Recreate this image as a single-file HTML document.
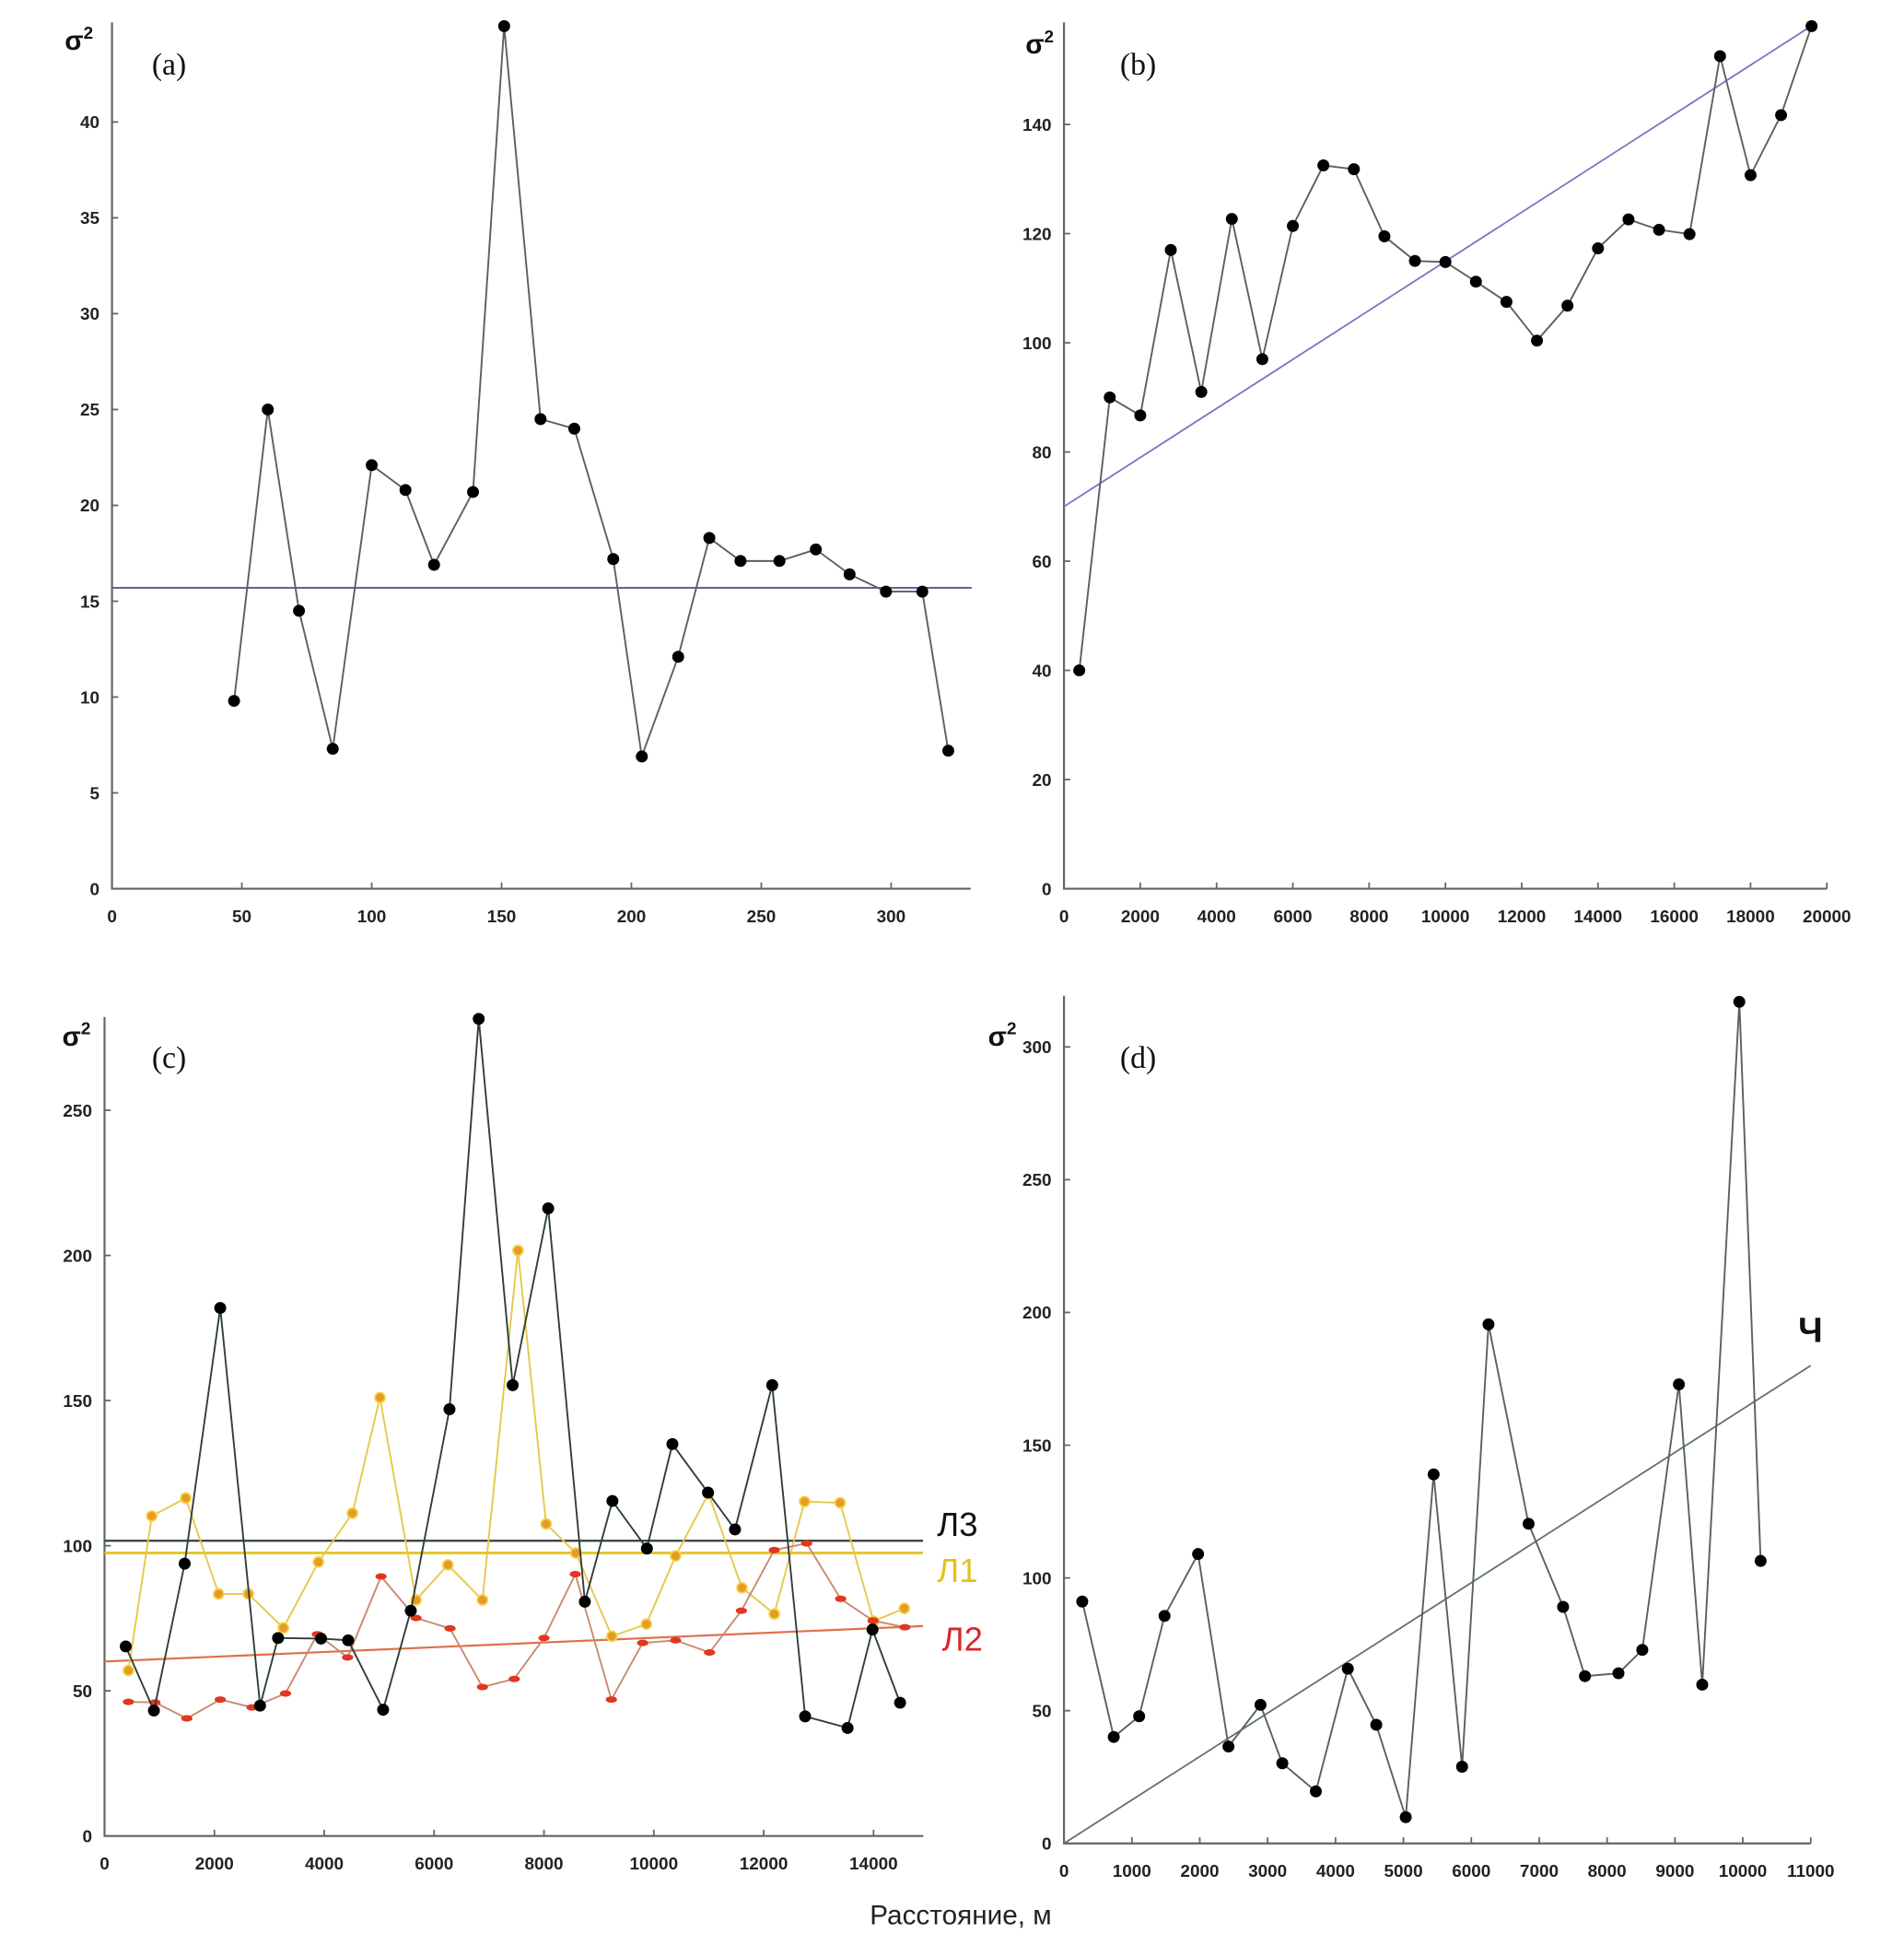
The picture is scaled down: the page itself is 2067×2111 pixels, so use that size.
<!DOCTYPE html>
<html><head><meta charset="utf-8"><style>
html,body{margin:0;padding:0;background:#fff;}
svg{display:block;}
text{font-family:"Liberation Sans",sans-serif;}
</style></head><body>
<svg id="fig" width="2067" height="2111" viewBox="0 0 1530 1562.6" preserveAspectRatio="none" xmlns="http://www.w3.org/2000/svg">
<rect width="1530" height="1563" fill="#fff"/>
</svg>
<script>
// Panel (a)
const aX=[47,60,72,85,100,113,124,139,151,165,178,193,204,218,230,242,257,271,284,298,312,322];
const aY=[9.8,25,14.5,7.3,22.1,20.8,16.9,20.7,45,24.5,24,17.2,6.9,12.1,18.3,17.1,17.1,17.7,16.4,15.5,15.5,7.2];
const aMean=[15.7];
const aXTicks=[0,50,100,150,200,250,300];
const aYTicks=[0,5,10,15,20,25,30,35,40];
// Panel (b)
const bX=[400,1200,2000,2800,3600,4400,5200,6000,6800,7600,8400,9200,10000,10800,11600,12400,13200,14000,14800,15600,16400,17200,18000,18800,19600];
const bY=[40,90,86.7,117,91,122.7,97,121.4,132.5,131.8,119.5,115,114.8,111.2,107.5,100.4,106.8,117.3,122.6,120.7,119.9,152.5,130.7,141.7,158];
const bTrend=[[0,70],[19700,158.5]];
const bXTicks=[0,2000,4000,6000,8000,10000,12000,14000,16000,18000,20000];
const bYTicks=[0,20,40,60,80,100,120,140];
// Panel (c)
const cBlackX=[386,899,1459,2106,2831,3159,3942,4435,5072,5575,6280,6812,7430,8077,8744,9246,9874,10338,10986,11478,12155,12754,13527,13981,14483];
const cBlackY=[65.3,43.2,93.8,181.9,44.9,68.2,68,67.4,43.5,77.6,147,281.5,155.3,216.2,80.7,115.4,99,135,118.3,105.6,155.3,41.2,37.2,71.1,45.9];
const cYelX=[435,860,1478,2077,2618,3256,3894,4512,5014,5671,6251,6880,7527,8039,8580,9237,9865,10396,10995,11604,12193,12744,13391,14000,14560];
const cYelY=[57,110.2,116.4,83.4,83.4,71.7,94.4,111.2,151,81.3,93.4,81.3,201.7,107.5,97.5,68.8,73,96.5,117.9,85.5,76.5,115.2,114.8,74,78.4];
const cRedX=[435,918,1498,2106,2686,3295,3874,4425,5034,5671,6290,6880,7459,8000,8570,9227,9797,10396,11014,11594,12193,12783,13401,13990,14570];
const cRedY=[46.2,46,40.5,47,44.3,49.1,69.5,61.5,89.4,75.1,71.5,51.3,54.1,68.2,90.2,47,66.5,67.4,63.2,77.6,98.5,100.8,81.7,74.2,71.9];
const cL3=[101.7], cL1=[97.5];
const cL2Trend=[[0,60.1],[14900,72.3]];
const cXTicks=[0,2000,4000,6000,8000,10000,12000,14000];
const cYTicks=[0,50,100,150,200,250];
// Panel (d)
const dX=[269,733,1107,1481,1975,2423,2894,3216,3710,4181,4600,5034,5445,5864,6253,6844,7352,7674,8168,8519,9058,9402,9948,10262];
const dY=[91.1,40.1,47.9,85.7,109,36.5,52.2,30.2,19.6,65.8,44.7,9.9,139,28.9,195.5,120.4,89.1,63,64.1,72.9,172.9,59.8,317,106.4];
const dTrend=[[0,0],[11000,180]];
const dXTicks=[0,1000,2000,3000,4000,5000,6000,7000,8000,9000,10000,11000];
const dYTicks=[0,50,100,150,200,250,300];

const NS='http://www.w3.org/2000/svg';
const svg=document.getElementById('fig');
function mk(tag,attrs,parent){const e=document.createElementNS(NS,tag);for(const k in attrs)e.setAttribute(k,attrs[k]);(parent||svg).appendChild(e);return e;}

function panel(id,cfg){
  const g=mk('g',{});
  
  
  const sx=v=>cfg.x0+v*cfg.xs, sy=v=>cfg.y0-v*cfg.ys;
  const ax=mk('path',{d:`M${cfg.x0},${cfg.top} L${cfg.x0},${cfg.y0} L${cfg.xEnd},${cfg.y0}`,fill:'none',stroke:'#5b6767','stroke-width':1.6},g);
  
  
  cfg.xticks.forEach(t=>{
    mk('line',{x1:sx(t),x2:sx(t),y1:cfg.y0,y2:cfg.y0-5,stroke:'#5b6767','stroke-width':1.3},g);
    const tx=mk('text',{x:sx(t),y:cfg.y0+27,'text-anchor':'middle','font-size':14,'font-weight':'bold',fill:'#222'},g);
    tx.textContent=t;
    
    
  });
  cfg.yticks.forEach(t=>{
    mk('line',{x1:cfg.x0,x2:cfg.x0+5,y1:sy(t),y2:sy(t),stroke:'#5b6767','stroke-width':1.3},g);
    const ty=mk('text',{x:cfg.x0-10,y:sy(t)+5,'text-anchor':'end','font-size':14,'font-weight':'bold',fill:'#222'},g);
    ty.textContent=t;
    
    
  });
  const s=mk('text',{x:cfg.sigX,y:cfg.sigY,'font-size':22,'font-weight':'bold',fill:'#111'},g);
  s.innerHTML='σ<tspan font-size="14" dy="-9">2</tspan>';
  
  
  const l=mk('text',{x:cfg.labX,y:cfg.labY,'font-size':25,fill:'#111',style:'font-family:"Liberation Serif",serif'},g);
  l.textContent=cfg.label;
  
  
  return {g,sx,sy};
}
function series(p,xs,ys,name,lineColor,marker){
  const pts=xs.map((x,i)=>p.sx(x).toFixed(1)+','+p.sy(ys[i]).toFixed(1)).join(' ');
  const pl=mk('polyline',{points:pts,fill:'none',stroke:lineColor,'stroke-width':1.4},p.g);
  
  
  xs.forEach((x,i)=>{
    let m;
    if(marker==='black') m=mk('circle',{cx:p.sx(x),cy:p.sy(ys[i]),r:4.8,fill:'#000'},p.g);
    else if(marker==='yellow') m=mk('circle',{cx:p.sx(x),cy:p.sy(ys[i]),r:4,fill:'#e79a2a',stroke:'#f3d23a','stroke-width':1.3},p.g);
    else m=mk('ellipse',{cx:p.sx(x),cy:p.sy(ys[i]),rx:4.5,ry:2.6,fill:'#e2361e'},p.g);
    
    
  });
}
function tline(p,a,b,color,name,w){
  const ln=mk('line',{x1:p.sx(a[0]),y1:p.sy(a[1]),x2:p.sx(b[0]),y2:p.sy(b[1]),stroke:color,'stroke-width':w||1.3},p.g);
  
  
}

// (a)
const pa=panel('panel-a',{x0:90,xEnd:780,xs:2.087,y0:714,ys:15.4,top:18,xticks:aXTicks,yticks:aYTicks,sigX:52,sigY:40,labX:122,labY:60,label:'(a)'});
tline(pa,[0,aMean[0]],[331,aMean[0]],'#4a4a96','mean-line-a');
series(pa,aX,aY,'series-a','#5a5f5f','black');
// (b)
const pb=panel('panel-b',{x0:855,xEnd:1468,xs:0.03065,y0:714,ys:4.386,top:18,xticks:bXTicks,yticks:bYTicks,sigX:824,sigY:43,labX:900,labY:60,label:'(b)'});
tline(pb,bTrend[0],bTrend[1],'#7570c0','trend-line-b');
series(pb,bX,bY,'series-b','#5a5f5f','black');
// (c)
const pc=panel('panel-c',{x0:84,xEnd:742,xs:0.04414,y0:1475,ys:2.332,top:817,xticks:cXTicks,yticks:cYTicks,sigX:50,sigY:840,labX:122,labY:858,label:'(c)'});
tline(pc,[0,cL3[0]],[14900,cL3[0]],'#2f3d3d','l3-mean-line',1.6);
tline(pc,[0,cL1[0]],[14900,cL1[0]],'#e3c21e','l1-mean-line',2);
tline(pc,cL2Trend[0],cL2Trend[1],'#e0704a','l2-trend-line',1.6);
series(pc,cYelX,cYelY,'series-l1','#e5c84a','yellow');
series(pc,cRedX,cRedY,'series-l2','#c98a70','red');
series(pc,cBlackX,cBlackY,'series-l3','#2f3d3d','black');
[['Л3',753,1234,'#111','label-l3'],['Л1',753,1271,'#e6c21a','label-l1'],['Л2',757,1326,'#d8262a','label-l2']].forEach(a=>{
  const t=mk('text',{x:a[1],y:a[2],'font-size':27,fill:a[3]});
  t.textContent=a[0];
  
  
});
// (d)
const pd=panel('panel-d',{x0:855,xEnd:1455,xs:0.05455,y0:1481,ys:2.133,top:800,xticks:dXTicks,yticks:dYTicks,sigX:794,sigY:840,labX:900,labY:858,label:'(d)'});
tline(pd,dTrend[0],dTrend[1],'#5e7070','trend-line-d');
series(pd,dX,dY,'series-d','#5a5f5f','black');
const ch=mk('text',{x:1445,y:1078,'font-size':28,'font-weight':'bold',fill:'#111'});
ch.textContent='Ч';


const xt=mk('text',{x:772,y:1546,'font-size':22,'text-anchor':'middle',fill:'#222'});
xt.textContent='Расстояние, м';


</script>
</body></html>
